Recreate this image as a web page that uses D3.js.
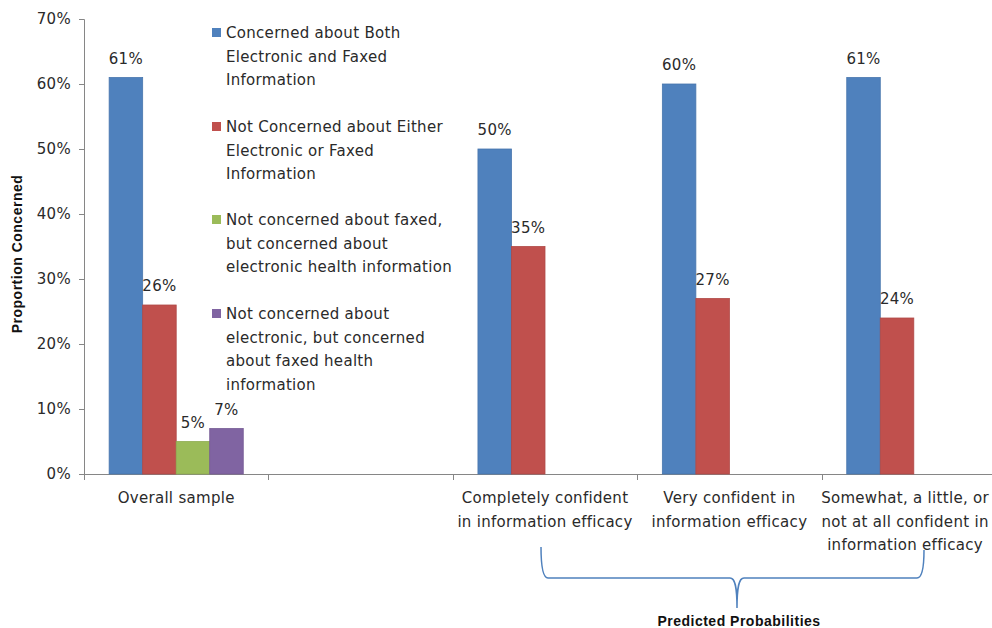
<!DOCTYPE html>
<html>
<head>
<meta charset="utf-8">
<script src="https://cdn.jsdelivr.net/npm/d3@7"></script>
<style>
  html, body { margin: 0; padding: 0; background: #fff; overflow: hidden; }
  svg { display: block; }
  text { font-family: "DejaVu Sans", Verdana, sans-serif; }
</style>
</head>
<body>
<svg id="chart" width="992" height="628"></svg>
<script>
// Categories along the x axis (the second slot is a deliberate spacer)
const categories = ["overall", "spacer", "complete", "very", "somewhat"];
const categoryLabels = [
  ["Overall sample"],
  [],
  ["Completely confident", "in information efficacy"],
  ["Very confident in", "information efficacy"],
  ["Somewhat, a little, or", "not at all confident in", "information efficacy"]
];

// Series names, as shown in the legend
const seriesNames = [
  ["Concerned about Both", "Electronic and Faxed", "Information"],
  ["Not Concerned about Either", "Electronic or Faxed", "Information"],
  ["Not concerned about faxed,", "but concerned about", "electronic health information"],
  ["Not concerned about", "electronic, but concerned", "about faxed health", "information"]
];
const seriesColors = ["#4F81BD", "#C0504D", "#9BBB59", "#8064A2"];

// Values per series, one entry per category (null = no bar)
const bothConcerned    = [0.61, null, 0.50, 0.60, 0.61];
const neitherConcerned = [0.26, null, 0.35, 0.27, 0.24];
const electronicOnly   = [0.05, null, null, null, null];
const faxedOnly        = [0.07, null, null, null, null];
const seriesValues = [bothConcerned, neitherConcerned, electronicOnly, faxedOnly];

const yTicks = [0, 0.1, 0.2, 0.3, 0.4, 0.5, 0.6, 0.7];

const width = 992;
const svg = d3.select("#chart");
const plotLeft = 84, plotRight = 1006, plotTop = 19, plotBottom = 474;
const textColor = "#2a2a2a";
const axisColor = "#868686";
const bodyFont = { size: "15px", spacing: "0.3px" };

const x = d3.scaleBand().domain(categories).range([plotLeft, plotRight]).padding(0);
const xs = d3.scaleBand().domain(d3.range(seriesValues.length))
  .range([0, x.bandwidth()]).paddingInner(0).paddingOuter(0.75);
const y = d3.scaleLinear().domain([0, 0.7]).range([plotBottom, plotTop]);
const pct = d3.format(".0%");

function bodyText(sel) {
  return sel.attr("fill", textColor)
    .style("font-family", "DejaVu Sans, Verdana, sans-serif")
    .style("font-size", bodyFont.size)
    .style("letter-spacing", bodyFont.spacing);
}

// Y axis
const yAxis = svg.append("g")
  .attr("transform", `translate(${plotLeft},0)`)
  .call(d3.axisLeft(y).tickValues(yTicks).tickFormat(pct).tickSize(5).tickPadding(8));
yAxis.select(".domain").attr("stroke", axisColor).attr("d", `M-5,${plotTop + 0.5}H0.5V${plotBottom}`);
yAxis.selectAll(".tick line").attr("stroke", axisColor);
bodyText(yAxis.selectAll(".tick text"));

// X axis baseline and category boundary ticks
const boundaries = categories.map(c => x(c)).concat([plotRight]);
svg.append("line").attr("x1", plotLeft).attr("x2", plotRight)
  .attr("y1", plotBottom + 0.5).attr("y2", plotBottom + 0.5)
  .attr("stroke", axisColor);
svg.append("g").selectAll("line").data(boundaries).join("line")
  .attr("x1", d => Math.round(d) + 0.5).attr("x2", d => Math.round(d) + 0.5)
  .attr("y1", plotBottom).attr("y2", plotBottom + 6).attr("stroke", axisColor);

// Category labels, kept inside the drawing area on the right
categories.forEach((c, i) => {
  const cx = x(c) + x.bandwidth() / 2;
  const block = svg.append("g");
  categoryLabels[i].forEach((line, j) => {
    block.append("text").attr("x", cx).attr("y", 503 + j * 23.5)
      .attr("text-anchor", "middle").call(bodyText).text(line);
  });
  let maxRight = 0;
  block.selectAll("text").each(function () {
    maxRight = Math.max(maxRight, cx + this.getComputedTextLength() / 2);
  });
  const overflow = maxRight - (width - 3);
  if (overflow > 0) block.attr("transform", `translate(${-overflow},0)`);
});

// Bars and value labels
seriesValues.forEach((vals, s) => {
  const g = svg.append("g");
  const pts = categories.map((c, i) => ({ c, v: vals[i] })).filter(d => d.v != null);
  g.selectAll("rect").data(pts).join("rect")
    .attr("x", d => x(d.c) + xs(s))
    .attr("y", d => y(d.v))
    .attr("width", xs.bandwidth())
    .attr("height", d => y(0) - y(d.v))
    .attr("fill", seriesColors[s])
    .attr("stroke", d3.color(seriesColors[s]).darker(0.25))
    .attr("stroke-width", 0.8);
  g.selectAll("text").data(pts).join("text")
    .attr("x", d => x(d.c) + xs(s) + xs.bandwidth() / 2)
    .attr("y", d => y(d.v) - 14)
    .attr("text-anchor", "middle").call(bodyText)
    .text(d => pct(d.v));
});

// Legend
const legendTops = [33, 127, 220, 314];
seriesNames.forEach((lines, s) => {
  const ly = legendTops[s];
  svg.append("rect").attr("x", 212).attr("y", ly - 5).attr("width", 9).attr("height", 9)
    .attr("fill", seriesColors[s]);
  lines.forEach((line, j) => {
    svg.append("text").attr("x", 226).attr("y", ly + 5 + j * 23.6)
      .call(bodyText).text(line);
  });
});

// Y axis title
svg.append("text")
  .attr("transform", `translate(22,254) rotate(-90)`)
  .attr("text-anchor", "middle").attr("fill", "#111")
  .style("font-family", "Liberation Sans, Arial, sans-serif")
  .style("font-size", "14px").style("font-weight", "bold")
  .style("letter-spacing", "0.5px")
  .text("Proportion Concerned");

// Brace grouping the predicted-probability categories
const braceL = 541, braceR = 924, braceY = 578, braceMid = 737;
svg.append("path")
  .attr("d", `M${braceL},547 C${braceL},566 ${braceL + 2},${braceY} ${braceL + 7},${braceY}
    L${braceMid - 7},${braceY} C${braceMid - 2},${braceY} ${braceMid},${braceY + 8} ${braceMid},608
    C${braceMid},${braceY + 8} ${braceMid + 2},${braceY} ${braceMid + 7},${braceY}
    L${braceR - 7},${braceY} C${braceR - 2},${braceY} ${braceR},566 ${braceR},550`)
  .attr("fill", "none").attr("stroke", "#4F81BD").attr("stroke-width", 1.5);

svg.append("text").attr("x", braceMid + 2).attr("y", 626)
  .attr("text-anchor", "middle").attr("fill", "#111")
  .style("font-family", "Liberation Sans, Arial, sans-serif")
  .style("font-size", "14px").style("font-weight", "bold")
  .style("letter-spacing", "0.5px")
  .text("Predicted Probabilities");
</script>
</body>
</html>
